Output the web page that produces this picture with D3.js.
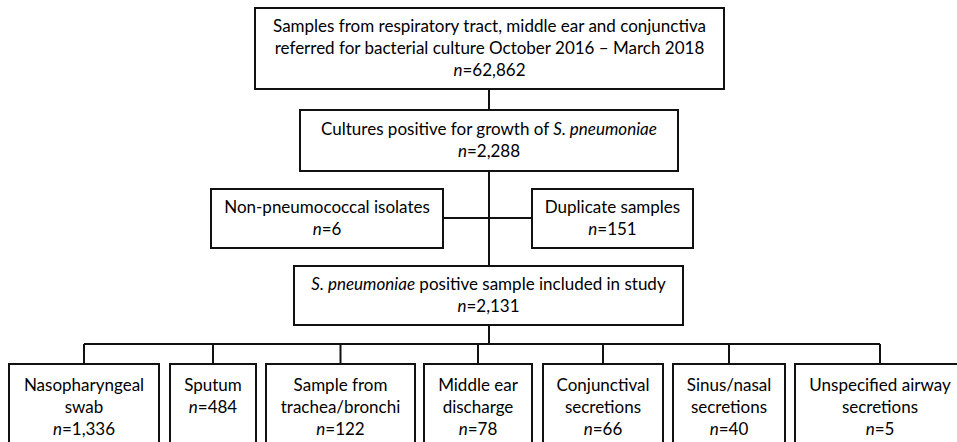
<!DOCTYPE html>
<html>
<head>
<meta charset="utf-8">
<script src="https://cdn.jsdelivr.net/npm/d3@7"></script>
<style>
  html, body { margin: 0; padding: 0; background: #fff; }
  svg { display: block; }
  text { font-family: Lato, "Open Sans", sans-serif; font-size: 17px; fill: #000; }
</style>
</head>
<body>
<svg id="chart" width="957" height="442"></svg>
<script>
/* Data */
/* **** */
// text in *stars* is set in italics
var stageLabels = [
    ['Samples from respiratory tract, middle ear and conjunctiva',
     'referred for bacterial culture October 2016 \u2013 March 2018'],
    ['Cultures positive for growth of *S. pneumoniae*'],
    ['*S. pneumoniae* positive sample included in study']
];
var stageCounts = [62862, 2288, 2131];

var exclusionLabels = [['Non-pneumococcal isolates'], ['Duplicate samples']];
var exclusionCounts = [6, 151];

var sampleLabels = [
    ['Nasopharyngeal', 'swab'],
    ['Sputum'],
    ['Sample from', 'trachea/bronchi'],
    ['Middle ear', 'discharge'],
    ['Conjunctival', 'secretions'],
    ['Sinus/nasal', 'secretions'],
    ['Unspecified airway', 'secretions']
];
var sampleCounts = [1336, 484, 122, 78, 66, 40, 5];

/* Layout */
/* ****** */
var lineGap = 22;
var stroke = '#111';

var stageBoxes = [
    { x0: 255, x1: 724, y0: 8,   y1: 89 },
    { x0: 300, x1: 678, y0: 110, y1: 171 },
    { x0: 294, x1: 683, y0: 266, y1: 325 }
];
var exclusionBoxes = [
    { x0: 211, x1: 443, y0: 189, y1: 248 },
    { x0: 532, x1: 693, y0: 189, y1: 248 }
];
var sampleEdges = [9, 159, 170, 256, 266, 415, 424, 532, 543, 663, 673, 785, 795, 965];
var sampleTop = 364, sampleBottom = 470, busY = 344, exclY = 218;

var fmt = d3.format(',');
var svg = d3.select('#chart');

var linesG = svg.append('g').attr('class', 'links');
var boxesG = svg.append('g').attr('class', 'nodes');

// turn label + count into a list of lines of segments
var toLines = function (label, count) {
    var rows = label.map(function (s) {
        return s.split('*').map(function (t, i) { return { t: t, it: i % 2 === 1 }; })
            .filter(function (seg) { return seg.t.length; });
    });
    rows.push([{ t: 'n', it: true }, { t: '=' + fmt(count), it: false }]);
    return rows;
};

var drawBox = function (b, rows, firstLine) {
    var g = boxesG.append('g').attr('class', 'node');
    g.append('rect')
        .attr('x', b.x0).attr('y', b.y0)
        .attr('width', b.x1 - b.x0).attr('height', b.y1 - b.y0)
        .attr('fill', '#fff')
        .attr('stroke', stroke)
        .attr('stroke-width', 2);
    var cx = (b.x0 + b.x1) / 2;
    var y0 = firstLine != null ? firstLine
        : (b.y0 + b.y1) / 2 - (rows.length - 1) * lineGap / 2;
    rows.forEach(function (row, i) {
        var t = g.append('text')
            .attr('x', cx)
            .attr('y', y0 + i * lineGap)
            .attr('dy', '0.35em')
            .attr('text-anchor', 'middle');
        row.forEach(function (seg) {
            t.append('tspan')
                .style('font-style', seg.it ? 'italic' : 'normal')
                .text(seg.t);
        });
    });
};

var line = function (x1, y1, x2, y2) {
    linesG.append('line')
        .attr('x1', x1).attr('y1', y1).attr('x2', x2).attr('y2', y2)
        .attr('stroke', stroke)
        .attr('stroke-width', 2);
};

// Connectors
var spineX = 489;
line(spineX, stageBoxes[0].y1, spineX, stageBoxes[1].y0);
line(spineX, stageBoxes[1].y1, spineX, stageBoxes[2].y0);
line(exclusionBoxes[0].x1, exclY, exclusionBoxes[1].x0, exclY);
line(spineX, stageBoxes[2].y1, spineX, busY);

var sampleBoxes = sampleCounts.map(function (c, i) {
    return { x0: sampleEdges[2 * i], x1: sampleEdges[2 * i + 1], y0: sampleTop, y1: sampleBottom };
});
var centers = sampleBoxes.map(function (b) { return (b.x0 + b.x1) / 2; });
line(d3.min(centers), busY, d3.max(centers), busY);
centers.forEach(function (cx) { line(cx, busY, cx, sampleTop); });

// Boxes
stageLabels.forEach(function (lab, i) { drawBox(stageBoxes[i], toLines(lab, stageCounts[i])); });
exclusionLabels.forEach(function (lab, i) { drawBox(exclusionBoxes[i], toLines(lab, exclusionCounts[i])); });
sampleLabels.forEach(function (lab, i) { drawBox(sampleBoxes[i], toLines(lab, sampleCounts[i]), 385); });
</script>
</body>
</html>
